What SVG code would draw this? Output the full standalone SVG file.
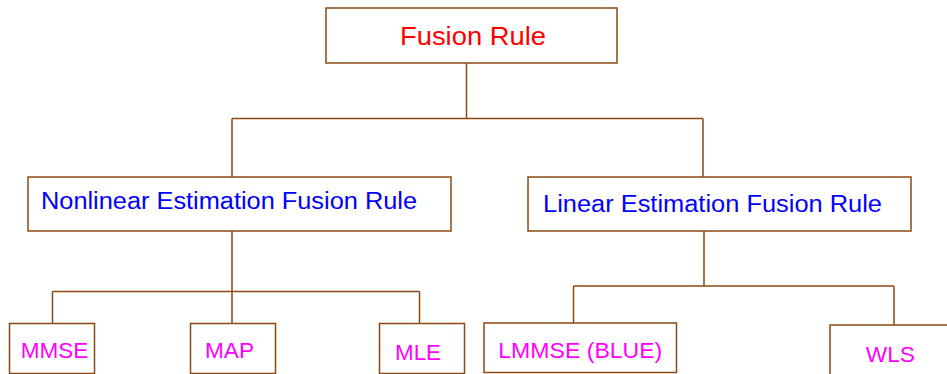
<svg xmlns="http://www.w3.org/2000/svg" width="947" height="374" viewBox="0 0 947 374">
<style>
.box{fill:#fff;stroke:#8B4A13;stroke-width:1.5}
.ln{fill:none;stroke:#8B4A13;stroke-width:1.5}
text{font-family:"Liberation Sans",Arial,sans-serif}
.red{fill:#FF0000;font-size:25.5px}
.blue{fill:#0000FF;font-size:23.5px}
.mag{fill:#FF00FF;font-size:22.5px}
</style>
<rect width="947" height="374" fill="#fff"/>
<g id="connectors">
<path class="ln" d="M466.5 63V118.5M232 118.5H703M232 118.5V177M703 118.5V177"/>
<path class="ln" d="M232 231V291.5M52.5 291.5H419.5M52.5 291.5V323.5M232 291.5V323.5M419.5 291.5V323.5"/>
<path class="ln" d="M704 231V286M573.5 286H894M573.5 286V323M894 286V325"/>
</g>
<g id="fusion-rule">
<rect class="box" x="326" y="8" width="291" height="55"/>
<text class="red" x="473" y="45" text-anchor="middle" textLength="146" lengthAdjust="spacingAndGlyphs">Fusion Rule</text>
</g>
<g id="nonlinear">
<rect class="box" x="28" y="177" width="423" height="54"/>
<text class="blue" x="41" y="209" textLength="376" lengthAdjust="spacingAndGlyphs">Nonlinear Estimation Fusion Rule</text>
</g>
<g id="linear">
<rect class="box" x="528" y="177" width="383" height="54"/>
<text class="blue" x="543" y="211.5" textLength="339" lengthAdjust="spacingAndGlyphs">Linear Estimation Fusion Rule</text>
</g>
<g id="mmse">
<rect class="box" x="9.5" y="323.5" width="85" height="50"/>
<text class="mag" x="20.7" y="358.3" textLength="67.6" lengthAdjust="spacingAndGlyphs">MMSE</text>
</g>
<g id="map">
<rect class="box" x="190.5" y="323.5" width="85" height="50"/>
<text class="mag" x="205" y="357.7" textLength="49" lengthAdjust="spacingAndGlyphs">MAP</text>
</g>
<g id="mle">
<rect class="box" x="379.5" y="323.5" width="85" height="50"/>
<text class="mag" x="395" y="360" textLength="46" lengthAdjust="spacingAndGlyphs">MLE</text>
</g>
<g id="lmmse">
<rect class="box" x="484" y="323" width="192.5" height="49.5"/>
<text class="mag" x="498.3" y="358.3" textLength="164" lengthAdjust="spacingAndGlyphs">LMMSE (BLUE)</text>
</g>
<g id="wls">
<rect class="box" x="830" y="325" width="130" height="60"/>
<text class="mag" x="865.7" y="361.7" textLength="49.3" lengthAdjust="spacingAndGlyphs">WLS</text>
</g>
</svg>
